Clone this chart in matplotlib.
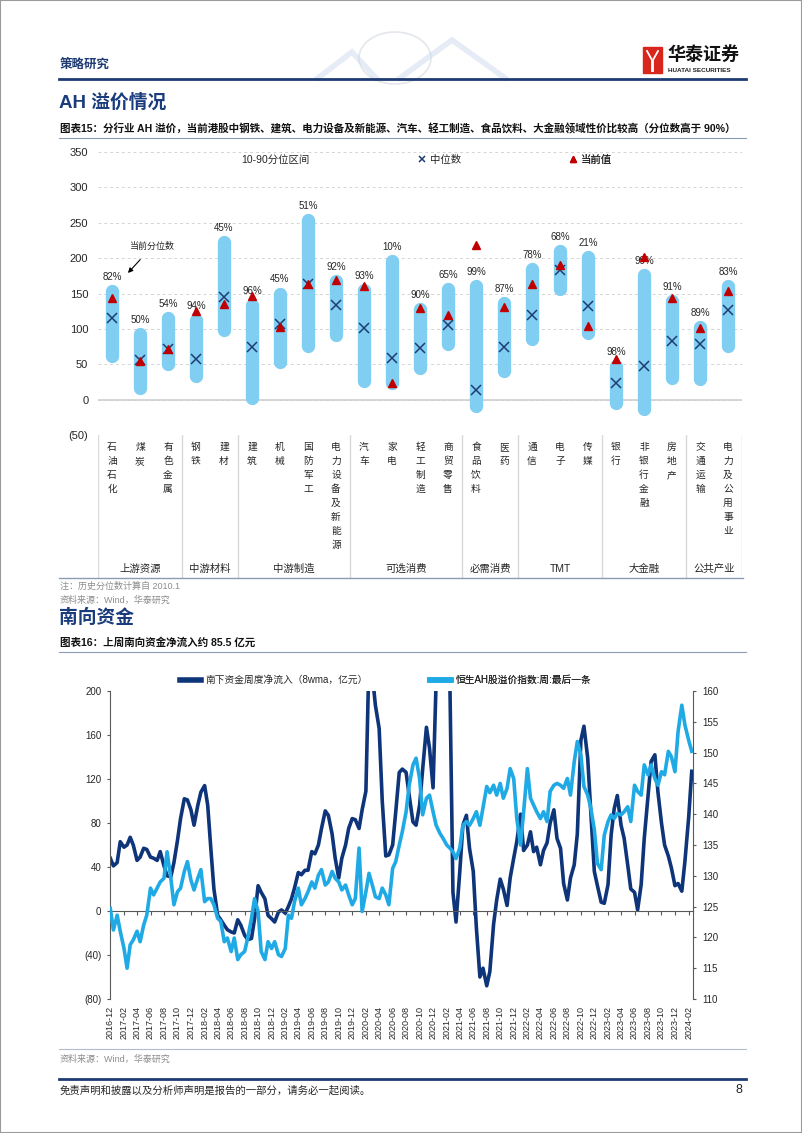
import numpy as np
import pandas as pd
import matplotlib
matplotlib.use('Agg')
import matplotlib.pyplot as plt
import matplotlib.dates as mdates
from matplotlib.lines import Line2D
from matplotlib.patches import Rectangle, Ellipse
from matplotlib.ticker import FuncFormatter

plt.rcParams['font.family'] = ['Liberation Sans', 'Noto Sans CJK SC', 'DejaVu Sans']

# ---- chart 15 data: AH premium by industry ----
industries = ['石油石化', '煤炭', '有色金属', '钢铁', '建材', '建筑', '机械', '国防军工',
              '电力设备及新能源', '汽车', '家电', '轻工制造', '商贸零售', '食品饮料', '医药',
              '通信', '电子', '传媒', '银行', '非银行金融', '房地产', '交通运输', '电力及公用事业']
group_names = ['上游资源', '中游材料', '中游制造', '可选消费', '必需消费', 'TMT', '大金融', '公共产业']
group_sizes = [3, 2, 4, 4, 2, 3, 3, 2]
p10 = [61, 17, 51, 33, 99, 3, 53, 76, 91, 27, 24, 45, 78, -9, 41, 85, 156, 94, -5, -13, 30, 29, 76]
p90 = [154, 93, 115, 112, 223, 134, 150, 254, 167, 155, 196, 128, 156, 160, 136, 184, 210, 201, 47, 176, 140, 102, 161]
median = [116, 56, 71, 58, 145, 75, 107, 163, 134, 101, 59, 73, 105, 13, 74, 119, 183, 133, 23, 48, 83, 79, 127]
current = [143, 55, 71, 125, 135, 146, 103, 164, 169, 161, 24, 129, 119, 218, 131, 163, 190, 104, 58, 202, 143, 101, 154]
pct = [82, 50, 54, 94, 45, 96, 45, 51, 92, 93, 10, 90, 65, 99, 87, 78, 68, 21, 98, 99, 91, 89, 83]

# ---- chart 16 data: southbound flow (8wma) and HS AH premium index, semi-monthly ----
start_date = '2016-12-01'
flow = [48, 41, 44, 63, 58, 60, 67, 60, 46, 49, 57, 56,
        49, 48, 46, 54, 41, 32, 31, 44, 64, 84, 102, 101,
        92, 78, 96, 108, 114, 96, 57, 20, -4, -8, -13, -17,
        -19, -20, -8, -13, -22, -26, -25, -7, 23, 17, 11, -4,
        -7, -10, -1, 1, -2, 4, 11, 21, 35, 33, 37, 37,
        54, 52, 60, 75, 91, 87, 70, 48, 30, 48, 60, 75,
        84, 83, 75, 92, 109, 230, 215, 187, 166, 100, 50, 51,
        60, 90, 126, 129, 126, 105, 81, 78, 96, 129, 167, 148,
        112, 210, 300, 320, 260, 210, 17, -10, 36, 78, 87, 57,
        36, -15, -60, -52, -68, -55, -12, 10, 29, 20, 5, 30,
        48, 63, 88, 55, 60, 72, 54, 58, 42, 55, 62, 80,
        92, 66, 57, 25, 10, 30, 42, 70, 155, 168, 139, 90,
        36, 23, 8, 7, 24, 69, 93, 105, 78, 66, 42, 20,
        17, 1, 24, 66, 105, 136, 142, 108, 80, 60, 50, 39,
        23, 25, 18, 45, 85, 127]
ah_index = [124.7, 121.2, 123.6, 121.0, 118.2, 115.0, 118.8, 119.6, 121.0, 119.3, 122.0, 123.6,
            128.0, 126.9, 128.0, 129.0, 129.6, 133.9, 129.6, 125.3, 127.4, 128.0, 130.7, 132.3,
            129.3, 127.7, 129.6, 131.0, 125.8, 126.3, 126.3, 125.3, 123.1, 122.6, 119.3, 119.9,
            117.7, 119.9, 116.4, 117.2, 117.7, 119.9, 123.1, 126.3, 124.2, 117.7, 116.4, 119.3,
            118.2, 119.3, 117.2, 116.9, 118.2, 123.6, 123.1, 125.8, 128.0, 125.3, 126.3, 127.4,
            129.0, 128.0, 130.1, 131.0, 128.5, 129.0, 130.7, 129.6, 129.0, 127.7, 128.5, 126.9,
            125.3, 126.3, 134.5, 124.2, 127.4, 130.4, 128.5, 126.6, 126.3, 128.0, 126.9, 125.3,
            131.2, 132.3, 135.0, 137.2, 140.4, 144.7, 148.0, 149.1, 145.8, 139.9, 142.6, 143.1,
            140.4, 138.2, 136.9, 136.1, 135.0, 134.5, 133.9, 132.8, 134.5, 138.2, 138.8, 138.2,
            139.3, 140.4, 138.2, 141.0, 144.5, 143.5, 144.7, 143.1, 145.0, 142.6, 144.2, 147.4,
            145.8, 139.3, 135.0, 140.4, 147.4, 142.6, 141.5, 140.4, 139.3, 140.4, 138.8, 143.7,
            144.7, 145.0, 144.7, 144.2, 145.8, 143.1, 148.5, 151.8, 149.6, 144.5, 143.1, 141.0,
            137.5, 132.0, 131.0, 136.6, 138.8, 139.9, 139.3, 140.1, 139.9, 140.4, 141.2, 138.8,
            144.7, 143.7, 143.1, 148.0, 146.4, 148.0, 145.8, 144.7, 146.9, 146.4, 150.2, 149.3,
            146.9, 153.4, 157.7, 154.5, 152.0, 150.2]

W, H = 802, 1133
NAVY = '#1f3b73'
TXT = '#262626'


def fx(px):
    return px / W


def fy(py):
    return 1 - py / H


def paren(v, pos=None):
    return f'({-v:.0f})' if v < 0 else f'{v:.0f}'


fig = plt.figure(figsize=(W / 100, H / 100), dpi=100)

# ---------------- page header ----------------
fig.patches.append(Ellipse((fx(395), fy(58)), 72 / W, 52 / H, transform=fig.transFigure,
                           fill=False, ec='#e3e7ec', lw=1.2))
for xs, ys in [([318, 352, 376], [78, 52, 78]), ([400, 452, 505], [78, 40, 78])]:
    fig.lines.append(Line2D([fx(v) for v in xs], [fy(v) for v in ys], transform=fig.transFigure,
                            color='#c6d6ea', lw=4, alpha=0.45, solid_joinstyle='miter'))
fig.text(fx(60), fy(65), '策略研究', fontsize=9, fontweight='bold', color=NAVY, va='center')
fig.patches.append(Rectangle((fx(643), fy(73)), 19 / W, 26 / H, transform=fig.transFigure,
                             color='#d9261c'))
for xs in ([647, 652, 652], [658, 653, 653]):
    fig.lines.append(Line2D([fx(v) for v in xs], [fy(51), fy(60), fy(71)],
                            transform=fig.transFigure, color='white', lw=1.3))
fig.text(fx(667), fy(55), '华泰证券', fontsize=13, fontweight='bold', color='#111', va='center')
fig.text(fx(668), fy(70), 'HUATAI SECURITIES', fontsize=4.6, fontweight='bold', color='#222', va='center')
fig.lines.append(Line2D([fx(59), fx(746)], [fy(79), fy(79)], transform=fig.transFigure,
                        color=NAVY, lw=2))

fig.text(fx(59), fy(103), 'AH 溢价情况', fontsize=13.5, fontweight='bold', color='#1b3c7c', va='center')
fig.text(fx(60), fy(129), '图表15：分行业 AH 溢价，当前港股中钢铁、建筑、电力设备及新能源、汽车、轻工制造、'
         '食品饮料、大金融领域性价比较高（分位数高于 90%）', fontsize=7.6, fontweight='bold',
         color='#111', va='center')
fig.lines.append(Line2D([fx(59), fx(746)], [fy(138), fy(138)], transform=fig.transFigure,
                        color='#8a9bb5', lw=0.8))

# ---------------- chart 15 ----------------
ax1 = fig.add_axes([fx(98), fy(435), (742 - 98) / W, (435 - 152) / H])
x = np.arange(len(industries))
ax1.set_xlim(-0.5, len(industries) - 0.5)
ax1.set_ylim(-50, 350)
ax1.set_yticks(range(-50, 351, 50))
ax1.yaxis.set_major_formatter(FuncFormatter(paren))
ax1.set_xticks([])
ax1.tick_params(axis='y', length=0, pad=7, labelsize=8, labelcolor=TXT)
for s in ax1.spines.values():
    s.set_visible(False)
ax1.grid(axis='y', ls=(0, (3, 3)), color='#d4d4d4', lw=0.7)
ax1.set_axisbelow(True)
ax1.axhline(0, color='#cfcfcf', lw=1.2, zorder=1)

bars = ax1.vlines(x, p10, p90, colors='#80cff2', lw=9.6, zorder=2)
bars.set_capstyle('round')
ax1.plot(x, median, ls='none', marker='x', ms=6.5, mew=1.1, color='#1f3c74', zorder=3)
ax1.plot(x, current, ls='none', marker='^', ms=5.5, color='#c00000', mec='#c00000', zorder=4)
for xi, top, p in zip(x, p90, pct):
    ax1.annotate(f'{p}%', (xi, top), xytext=(0, 6.5), textcoords='offset points',
                 ha='center', va='bottom', fontsize=7, color=TXT)

ax1.annotate('当前分位数', xy=(0.57, 179), xytext=(1.45, 217), ha='center', va='center',
             fontsize=6.5, color=TXT,
             arrowprops=dict(arrowstyle='-|>', color='black', lw=0.8, shrinkA=6, shrinkB=0,
                             mutation_scale=7))


def one_legend(ax, handle, label, x_px, y_px, fs, hl, pad):
    lg = ax.legend([handle], [label], loc='center left', bbox_to_anchor=(fx(x_px), fy(y_px)),
                   bbox_transform=fig.transFigure, frameon=False, fontsize=fs, handlelength=hl,
                   handletextpad=pad, borderpad=0, borderaxespad=0)
    for t in lg.get_texts():
        t.set_color(TXT)
    ax.add_artist(lg)


one_legend(ax1, Line2D([], [], color='none'), '10-90分位区间', 229, 160, 7.5, 0.8, 0.35)
one_legend(ax1, Line2D([], [], ls='none', marker='x', ms=5, mew=1.1, color='#1f3c74'),
           '中位数', 418, 160, 7.5, 0.8, 0.35)
one_legend(ax1, Line2D([], [], ls='none', marker='^', ms=4.5, color='#c00000'),
           '当前值', 569, 160, 7.5, 0.8, 0.35)

# category table under chart 15
axt = fig.add_axes([fx(98), fy(578), (742 - 98) / W, (578 - 435) / H])
axt.set_xlim(-0.5, len(industries) - 0.5)
axt.set_ylim(0, 1)
axt.axis('off')
edges = np.concatenate([[0], np.cumsum(group_sizes)]) - 0.5
for e in edges:
    axt.axvline(e, color='#d9d9d9', lw=1)
for i, name in enumerate(industries):
    for j, ch in enumerate(name):
        axt.text(i, 0.916 - j * 0.098, ch, ha='center', va='center', fontsize=7, color=TXT)
for g, e0, n in zip(group_names, edges[:-1], group_sizes):
    axt.text(e0 + n / 2, 0.063, g, ha='center', va='center', fontsize=7.5, color=TXT)

fig.lines.append(Line2D([fx(59), fx(743)], [fy(578), fy(578)], transform=fig.transFigure,
                        color='#8a9bb5', lw=1))
fig.text(fx(60), fy(586), '注：历史分位数计算自 2010.1', fontsize=6.5, color='#8c8c8c', va='center')
fig.text(fx(60), fy(600), '资料来源：Wind，华泰研究', fontsize=6.5, color='#8c8c8c', va='center')

# ---------------- chart 16 ----------------
fig.text(fx(59), fy(618), '南向资金', fontsize=13.5, fontweight='bold', color='#1b3c7c', va='center')
fig.text(fx(60), fy(643), '图表16：上周南向资金净流入约 85.5 亿元', fontsize=7.6, fontweight='bold',
         color='#111', va='center')
fig.lines.append(Line2D([fx(59), fx(746)], [fy(652), fy(652)], transform=fig.transFigure,
                        color='#8a9bb5', lw=0.8))

dates = pd.date_range(start_date, periods=len(flow), freq='SMS')
ax2 = fig.add_axes([fx(110.3), fy(999), (693.3 - 110.3) / W, (999 - 691) / H])
l1, = ax2.plot(dates, flow, color='#0e3479', lw=2.6, solid_joinstyle='round')
ax2.set_ylim(-80, 200)
ax2.set_xlim(pd.Timestamp('2016-12-01'), pd.Timestamp('2024-02-22'))
ax2.set_yticks(range(-80, 201, 40))
ax2.yaxis.set_major_formatter(FuncFormatter(paren))
ax2.spines[['top', 'right']].set_visible(False)
ax2.spines['left'].set_color('#595959')
ax2.spines['bottom'].set_position(('data', 0))
ax2.spines['bottom'].set_color('#595959')
ax2.tick_params(axis='y', direction='out', length=2.5, pad=4, labelsize=7, labelcolor=TXT,
                color='#595959')
month_loc = mdates.MonthLocator(bymonth=range(2, 13, 2))
ax2.xaxis.set_major_locator(month_loc)
ax2.tick_params(axis='x', direction='out', length=3, color='#595959', labelbottom=False)

ax3 = ax2.twinx()
l2, = ax3.plot(dates, ah_index, color='#1faae6', lw=2.6, solid_joinstyle='round')
ax3.set_ylim(110, 160)
ax3.set_yticks(range(110, 161, 5))
ax3.spines[['top', 'bottom', 'left']].set_visible(False)
ax3.spines['right'].set_color('#595959')
ax3.tick_params(axis='y', direction='out', length=2.5, pad=4, labelsize=7, labelcolor=TXT,
                color='#595959')

sec = ax2.secondary_xaxis('bottom')
sec.xaxis.set_major_locator(mdates.MonthLocator(bymonth=range(2, 13, 2)))
sec.xaxis.set_major_formatter(mdates.DateFormatter('%Y-%m'))
sec.spines['bottom'].set_visible(False)
sec.tick_params(axis='x', length=0, pad=5, labelsize=6.5, labelcolor=TXT, labelrotation=90)

one_legend(ax2, Line2D([], [], color='#0e3479', lw=4), '南下资金周度净流入（8wma，亿元）',
           180, 680, 7, 2.2, 0.4)
one_legend(ax2, Line2D([], [], color='#1faae6', lw=4), '恒生AH股溢价指数:周:最后一条',
           430, 680, 7, 2.2, 0.4)

# ---------------- footer ----------------
fig.lines.append(Line2D([fx(59), fx(746)], [fy(1049), fy(1049)], transform=fig.transFigure,
                        color='#b4bccb', lw=0.8))
fig.text(fx(60), fy(1059), '资料来源：Wind，华泰研究', fontsize=6.5, color='#8c8c8c', va='center')
fig.lines.append(Line2D([fx(59), fx(746)], [fy(1079), fy(1079)], transform=fig.transFigure,
                        color=NAVY, lw=2))
fig.text(fx(60), fy(1090), '免责声明和披露以及分析师声明是报告的一部分，请务必一起阅读。', fontsize=7.5,
         color=TXT, va='center')
fig.text(fx(742), fy(1090), '8', fontsize=9, color=TXT, va='center', ha='right')
fig.patches.append(Rectangle((0, 0), 1, 1, transform=fig.transFigure, fill=False,
                             ec='#9a9a9a', lw=1.5))

fig.savefig('out.png', dpi=100)
